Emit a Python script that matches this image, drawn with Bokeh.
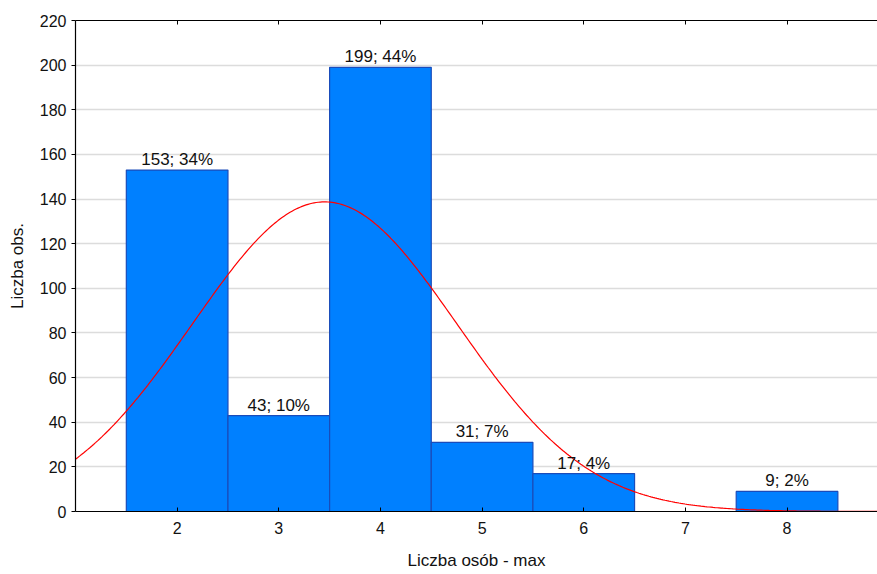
import math
from bokeh.plotting import figure
from bokeh.models import Range1d, LinearAxis, FixedTicker, ColumnDataSource
from bokeh.core.properties import value
from bokeh.embed import file_html
from bokeh.resources import INLINE

# Data
categories = [2, 3, 4, 5, 6, 7, 8]
counts = [153, 43, 199, 31, 17, 0, 9]
bar_labels = ["153; 34%", "43; 10%", "199; 44%", "31; 7%", "17; 4%", "", "9; 2%"]
y_ticks = [0, 20, 40, 60, 80, 100, 120, 140, 160, 180, 200, 220]
x_ticks = [2, 3, 4, 5, 6, 7, 8]

FONT = "Liberation Sans"
X_END = 8.89

p = figure(width=877, height=574, output_backend="svg", toolbar_location=None,
           x_range=Range1d(1.0, X_END), y_range=Range1d(0, 220),
           min_border_left=75, min_border_right=0, min_border_top=20, min_border_bottom=63)
p.outline_line_color = None
p.background_fill_color = "white"
p.border_fill_color = "white"

# grid
p.xgrid.visible = False
p.ygrid.ticker = FixedTicker(ticks=y_ticks)
p.ygrid.grid_line_color = "#dcdcdc"
p.ygrid.grid_line_width = 1.5

# bars
src = ColumnDataSource(dict(x=categories, top=counts))
p.vbar(x="x", top="top", bottom=0, width=1.0, source=src,
       fill_color="#0080FF", line_color="#1A4CBA", line_width=1.2)

# normal fit curve (from the histogram data)
n = sum(counts)
mean = sum(c * k for c, k in zip(categories, counts)) / n
var = sum(k * (c - mean) ** 2 for c, k in zip(categories, counts)) / (n - 1)
sd = math.sqrt(var)
xs = [1.0 + i * (X_END - 1.0) / 400 for i in range(401)]
ys = [n / (sd * math.sqrt(2 * math.pi)) * math.exp(-0.5 * ((x - mean) / sd) ** 2) for x in xs]
p.line(xs, ys, line_color="#FF0000", line_width=1.2)

# bar labels (only non-empty)
lab_src = ColumnDataSource(dict(
    x=[c for c, l in zip(categories, bar_labels) if l],
    y=[v for v, l in zip(counts, bar_labels) if l],
    lab=[l for l in bar_labels if l]))
p.text(x="x", y="y", text="lab", source=lab_src, text_align="center",
       text_baseline="bottom", y_offset=-1,
       text_font=value(FONT), text_font_size="17px", text_color="#111111")

# axes
xa = p.xaxis[0]
xa.ticker = FixedTicker(ticks=x_ticks)
xa.axis_label = "Liczba osób - max"
ya = p.yaxis[0]
ya.ticker = FixedTicker(ticks=y_ticks)
ya.axis_label = "Liczba obs."
for ax in (xa, ya):
    ax.axis_line_color = "black"
    ax.axis_line_width = 1.2
    ax.major_tick_line_color = "black"
    ax.minor_tick_line_color = None
    ax.major_label_text_font = FONT
    ax.major_label_text_font_size = "16px"
    ax.major_label_text_color = "#111111"
    ax.axis_label_text_font = FONT
    ax.axis_label_text_font_size = "17px"
    ax.axis_label_text_font_style = "normal"
    ax.axis_label_text_color = "#111111"

xa.major_tick_in = 4
xa.major_tick_out = 0
xa.major_label_standoff = 10
xa.axis_label_standoff = 14

ya.major_tick_in = 0
ya.major_tick_out = 4
ya.major_label_standoff = 5
ya.axis_label_standoff = 10

top = LinearAxis(ticker=FixedTicker(ticks=x_ticks))
top.axis_line_color = "black"
top.axis_line_width = 1.2
top.major_tick_in = 4
top.major_tick_out = 0
top.minor_tick_line_color = None
top.major_label_overrides = {t: "" for t in x_ticks}
top.major_label_standoff = 0
p.add_layout(top, "above")

open("out.html", "w").write(file_html(p, INLINE))
